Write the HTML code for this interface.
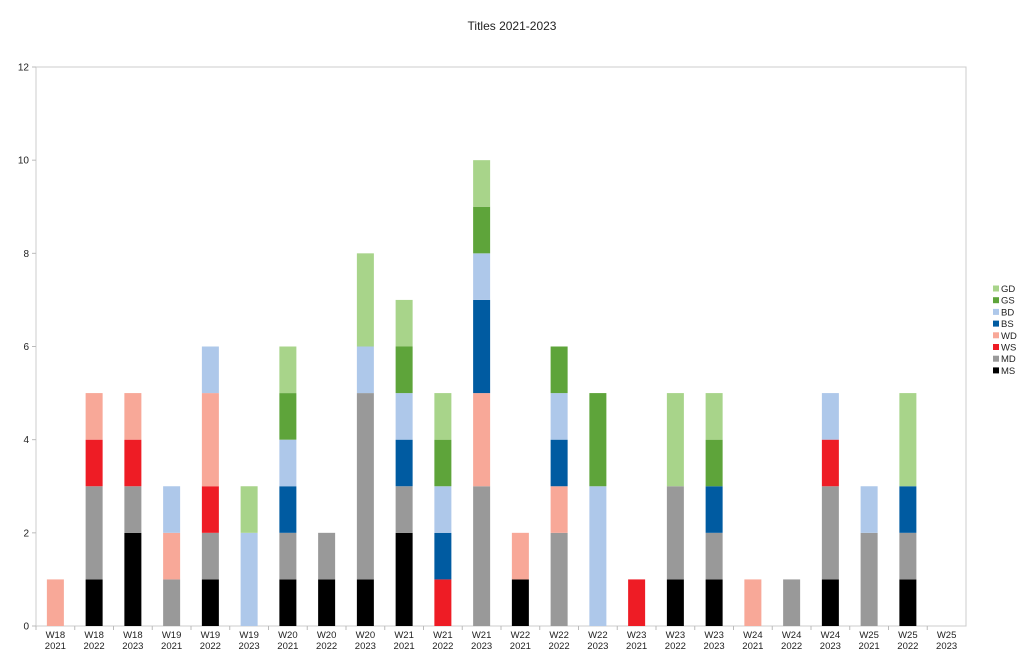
<!DOCTYPE html>
<html><head><meta charset="utf-8">
<style>
html,body{margin:0;padding:0;background:#fff;}
svg{display:block;font-family:"Liberation Sans",sans-serif;}
</style></head>
<body>
<svg id="c" width="1024" height="663" viewBox="0 0 1024 663" xmlns="http://www.w3.org/2000/svg"></svg>
<script>
const svg=document.getElementById('c');
const cols=['#000000','#999999','#ee1c25','#f8a898','#005ba1','#aec8ea','#5ea43a','#a8d48a'];
const names=['MS','MD','WS','WD','BS','BD','GS','GD'];
const data=[
[0,0,0,1,0,0,0,0],[1,2,1,1,0,0,0,0],[2,1,1,1,0,0,0,0],
[0,1,0,1,0,1,0,0],[1,1,1,2,0,1,0,0],[0,0,0,0,0,2,0,1],
[1,1,0,0,1,1,1,1],[1,1,0,0,0,0,0,0],[1,4,0,0,0,1,0,2],
[2,1,0,0,1,1,1,1],[0,0,1,0,1,1,1,1],[0,3,0,2,2,1,1,1],
[1,0,0,1,0,0,0,0],[0,2,0,1,1,1,1,0],[0,0,0,0,0,3,2,0],
[0,0,1,0,0,0,0,0],[1,2,0,0,0,0,0,2],[1,1,0,0,1,0,1,1],
[0,0,0,1,0,0,0,0],[0,1,0,0,0,0,0,0],[1,2,1,0,0,1,0,0],
[0,2,0,0,0,1,0,0],[1,1,0,0,1,0,0,2],[0,0,0,0,0,0,0,0]];
const x0=36,x1=966,y0=626,yt=67,u=(y0-yt)/12,cw=(x1-x0)/24,bw=17;
let h='';
h+=`<text x="512" y="30" font-size="12" text-anchor="middle" fill="#222">Titles 2021-2023</text>`;
h+=`<rect x="${x0}" y="${yt}" width="${x1-x0}" height="${y0-yt}" fill="none" stroke="#ccc" stroke-width="1"/>`;
for(let v=0;v<=12;v+=2){const y=y0-v*u;h+=`<line x1="${x0-4}" x2="${x0}" y1="${y}" y2="${y}" stroke="#bbb"/><text x="${x0-7}" y="${y+3.5}" font-size="10" text-anchor="end" fill="#222">${v}</text>`;}
const wk=['W18','W19','W20','W21','W22','W23','W24','W25'],yr=['2021','2022','2023'];
data.forEach((d,i)=>{
 const cx=x0+cw*(i+0.5);let acc=0;
 d.forEach((n,k)=>{if(n){const ya=y0-(acc+n)*u;h+=`<rect x="${cx-bw/2}" y="${ya}" width="${bw}" height="${n*u}" fill="${cols[k]}"/>`;acc+=n;}});
 h+=`<line x1="${x0+cw*i}" x2="${x0+cw*i}" y1="${y0}" y2="${y0+4}" stroke="#bbb"/>`;
 h+=`<text x="${cx}" y="638" font-size="9.5" text-anchor="middle" fill="#222">${wk[Math.floor(i/3)]}</text><text x="${cx}" y="649" font-size="9.5" text-anchor="middle" fill="#222">${yr[i%3]}</text>`;
});
for(let k=7;k>=0;k--){const y=289+(7-k)*11.7;h+=`<rect x="993" y="${y-3.5}" width="6" height="6" fill="${cols[k]}"/><text x="1001" y="${y+3}" font-size="9.5" fill="#222">${names[k]}</text>`;}
svg.innerHTML=h;
</script>
</body></html>
